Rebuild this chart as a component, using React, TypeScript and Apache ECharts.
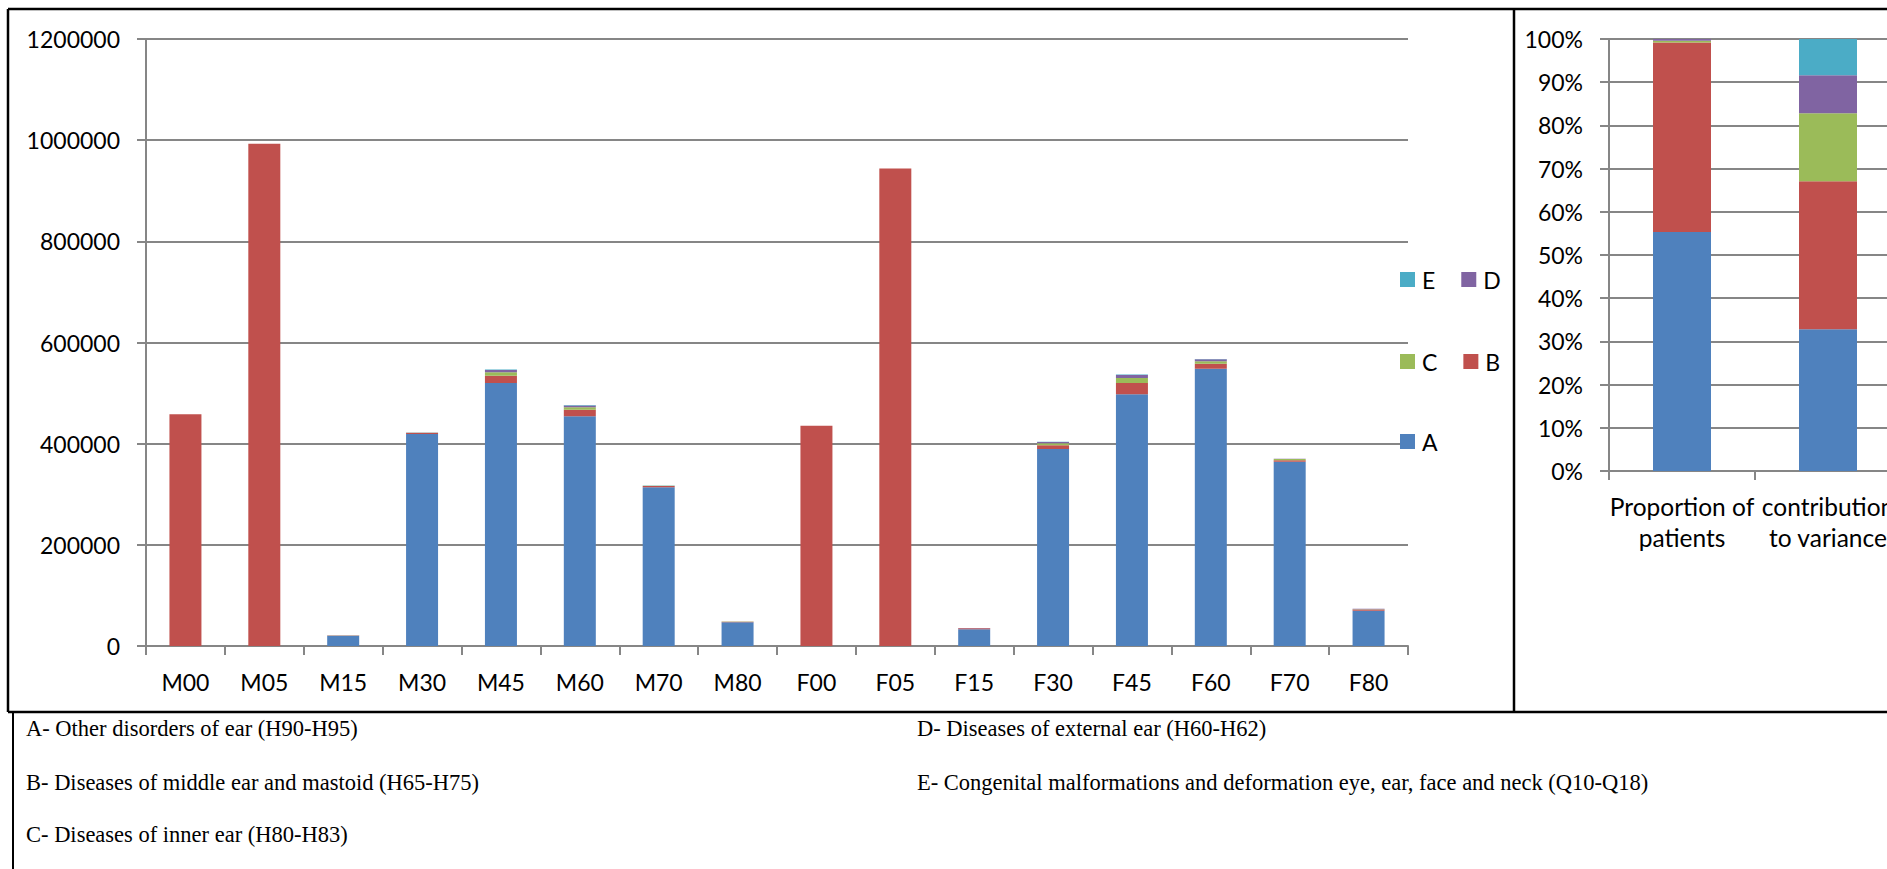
import React, { useEffect, useRef } from "react";
import * as echarts from "echarts";

const categories = ["M00", "M05", "M15", "M30", "M45", "M60", "M70", "M80", "F00", "F05", "F15", "F30", "F45", "F60", "F70", "F80"];
const seriesNames = ["A", "B", "C", "D", "E"];
const seriesColors = ["#4F81BD", "#C0504D", "#9BBB59", "#8064A2", "#4BACC6"];

const valuesA = [0, 0, 20000, 419000, 520000, 454000, 314000, 47000, 0, 0, 33000, 389500, 497600, 548300, 364400, 69800];
const valuesB = [458000, 993000, 500, 2000, 14400, 13100, 2500, 1000, 435500, 944000, 2000, 7200, 22400, 9900, 3000, 2500];
const valuesC = [0, 0, 300, 500, 6700, 4700, 300, 200, 0, 0, 300, 4000, 9800, 4600, 2300, 400];
const valuesD = [0, 0, 300, 500, 4600, 3900, 200, 200, 0, 0, 300, 2600, 6000, 4000, 300, 800];
const valuesE = [0, 0, 100, 100, 800, 600, 100, 100, 0, 0, 100, 400, 800, 600, 100, 100];

const shareCategories = ["Proportion of\npatients", "contribution\nto variance"];
const shareA = [55.3, 32.8];
const shareB = [43.9, 34.3];
const shareC = [0.4, 15.7];
const shareD = [0.4, 8.8];
const shareE = [0.0, 8.4];

const mainTicks = { min: 0, max: 1200000, interval: 200000 };
const shareTicks = { min: 0, max: 100, interval: 10 };

const notesLeft = [
  "A- Other disorders of ear (H90-H95)",
  "B- Diseases of middle ear and mastoid (H65-H75)",
  "C- Diseases of inner ear (H80-H83)",
];
const notesRight = [
  "D- Diseases of external ear (H60-H62)",
  "E- Congenital malformations and deformation eye, ear, face and neck (Q10-Q18)",
];

const FONT = "Lato";
const FS = 23;
const GRID_COLOR = "#868686";

export default function App() {
  const ref = useRef<HTMLDivElement>(null);

  useEffect(() => {
    if (!ref.current) return;
    const chart = echarts.init(ref.current, undefined, { renderer: "svg" });

    const mainData = [valuesA, valuesB, valuesC, valuesD, valuesE];
    const shareData = [shareA, shareB, shareC, shareD, shareE];

    const axisCommon = {
      axisLine: { show: true, lineStyle: { color: GRID_COLOR, width: 2 } },
      axisTick: { show: true, length: 9, lineStyle: { color: GRID_COLOR, width: 2 } },
    };

    const series: any[] = [];
    seriesNames.forEach((n, i) => {
      series.push({
        name: n,
        type: "bar",
        stack: "main",
        xAxisIndex: 0,
        yAxisIndex: 0,
        barWidth: 32,
        data: mainData[i],
        itemStyle: { color: seriesColors[i] },
      });
    });
    seriesNames.forEach((n, i) => {
      series.push({
        name: n,
        type: "bar",
        stack: "share",
        xAxisIndex: 1,
        yAxisIndex: 1,
        barWidth: 58,
        data: shareData[i],
        itemStyle: { color: seriesColors[i] },
      });
    });

    const legendCommon = {
      orient: "horizontal",
      itemWidth: 15,
      itemHeight: 15,
      itemGap: 26,
      icon: "rect",
      textStyle: { fontFamily: FONT, fontSize: FS, color: "#000", padding: [0, 0, 0, 2] },
      selectedMode: false,
    };

    const lineStyle = { stroke: "#000", lineWidth: 2.5 };
    const noteStyle = { fontFamily: "Liberation Serif", fontSize: 22.5, fill: "#000", verticalAlign: "middle", align: "left" };
    const graphics: any[] = [
      { type: "line", shape: { x1: 8, y1: 9, x2: 1910, y2: 9 }, style: lineStyle },
      { type: "line", shape: { x1: 8, y1: 9, x2: 8, y2: 712 }, style: lineStyle },
      { type: "line", shape: { x1: 8, y1: 712, x2: 1910, y2: 712 }, style: lineStyle },
      { type: "line", shape: { x1: 1514, y1: 9, x2: 1514, y2: 712 }, style: lineStyle },
      { type: "line", shape: { x1: 13, y1: 712, x2: 13, y2: 869 }, style: { stroke: "#000", lineWidth: 2 } },
    ];
    const noteYs = [728, 782, 834];
    notesLeft.forEach((t, i) => {
      graphics.push({ type: "text", x: 26, y: noteYs[i], style: { ...noteStyle, text: t } });
    });
    notesRight.forEach((t, i) => {
      graphics.push({ type: "text", x: 917, y: noteYs[i], style: { ...noteStyle, text: t } });
    });

    chart.setOption({
      animation: false,
      backgroundColor: "#fff",
      textStyle: { fontFamily: FONT },
      grid: [
        { left: 146, top: 39, width: 1262, height: 607, containLabel: false },
        { left: 1609, top: 39, width: 292, height: 432, containLabel: false },
      ],
      legend: [
        { ...legendCommon, data: ["E", "D"], left: 1395, top: 263 },
        { ...legendCommon, data: ["C", "B"], left: 1395, top: 345 },
        { ...legendCommon, data: ["A"], left: 1395, top: 425 },
      ],
      xAxis: [
        {
          type: "category",
          gridIndex: 0,
          data: categories,
          ...axisCommon,
          axisLabel: { fontFamily: FONT, fontSize: FS, color: "#000", margin: 24 },
          splitLine: { show: false },
        },
        {
          type: "category",
          gridIndex: 1,
          data: shareCategories,
          ...axisCommon,
          axisLabel: { fontFamily: FONT, fontSize: 24.5, color: "#000", margin: 20, lineHeight: 31, interval: 0 },
          splitLine: { show: false },
        },
      ],
      yAxis: [
        {
          type: "value",
          gridIndex: 0,
          ...mainTicks,
          ...axisCommon,
          axisLabel: { fontFamily: FONT, fontSize: FS, color: "#000", margin: 26, formatter: (v: number) => String(v) },
          splitLine: { show: true, lineStyle: { color: GRID_COLOR, width: 2 } },
        },
        {
          type: "value",
          gridIndex: 1,
          ...shareTicks,
          ...axisCommon,
          axisLabel: { fontFamily: FONT, fontSize: FS, color: "#000", margin: 26, formatter: (v: number) => v + "%" },
          splitLine: { show: true, lineStyle: { color: GRID_COLOR, width: 2 } },
        },
      ],
      series,
      graphic: graphics,
    });

    return () => chart.dispose();
  }, []);

  return (
    <div style={{ position: "fixed", left: 0, top: 0, width: 1887, height: 869, overflow: "hidden", background: "#fff" }}>
      <div ref={ref} style={{ width: 1910, height: 869 }} />
    </div>
  );
}
